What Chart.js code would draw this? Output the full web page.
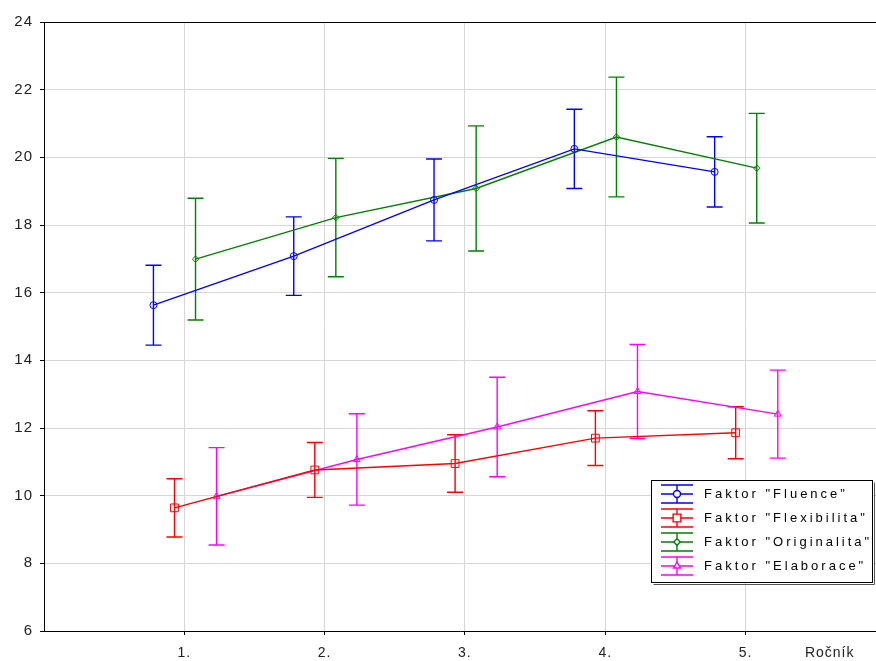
<!DOCTYPE html>
<html>
<head>
<meta charset="utf-8">
<script src="https://cdn.jsdelivr.net/npm/chart.js@4/dist/chart.umd.min.js"></script>
<style>
  html, body { margin: 0; padding: 0; background: #fff; }
  #wrap { width: 876px; height: 661px; }
</style>
</head>
<body>
<div id="wrap"><canvas id="rocnikChart" width="876" height="661"></canvas></div>
<script>
// Data: means and half-length of the error bars per year
const categories = [1, 2, 3, 4, 5];
const tickLabels = ['1.', '2.', '3.', '4.', '5.'];
const yTicks = [6, 8, 10, 12, 14, 16, 18, 20, 22, 24];
const seriesNames = ['Faktor "Fluence"', 'Faktor "Flexibilita"', 'Faktor "Originalita"', 'Faktor "Elaborace"'];

const fluenceMean = [15.63, 17.08, 18.74, 20.25, 19.57];
const fluenceErr = [1.18, 1.16, 1.21, 1.17, 1.04];
const flexMean = [9.64, 10.76, 10.95, 11.70, 11.86];
const flexErr = [0.86, 0.81, 0.85, 0.81, 0.77];
const origMean = [16.99, 18.22, 19.08, 20.60, 19.68];
const origErr = [1.80, 1.75, 1.85, 1.77, 1.62];
const elabMean = [9.98, 11.07, 12.03, 13.08, 12.41];
const elabErr = [1.44, 1.35, 1.47, 1.39, 1.30];

// styling
const colors = ['#0000ff', '#ff0000', '#008000', '#ff00ff'];
const markers = ['circle', 'rect', 'rectRot', 'triangle'];
const markerSize = [3.5, 5.5, 3.2, 4];
const shift = [-0.22, -0.07, 0.08, 0.23]; // horizontal dodge of each series
const FONT = '"Liberation Sans", Arial, sans-serif';
const LW = 1.4;

const means = [fluenceMean, flexMean, origMean, elabMean];
const errs = [fluenceErr, flexErr, origErr, elabErr];

const datasets = means.map((m, i) => ({
    label: seriesNames[i],
    data: categories.map((c, j) => ({ x: c + shift[i], y: m[j], err: errs[i][j] })),
    borderColor: colors[i],
    backgroundColor: 'rgba(0,0,0,0)',
    borderWidth: LW,
    pointStyle: markers[i],
    pointRadius: markerSize[i],
    pointBorderWidth: 1,
    pointBorderColor: colors[i],
    pointBackgroundColor: 'rgba(0,0,0,0)',
    tension: 0
}));

// error bars, drawn through the scales
const errorBars = {
    id: 'errorBars',
    beforeDraw(chart) {
        chart.ctx.letterSpacing = '1px';
    },
    beforeDatasetsDraw(chart) {
        const { ctx, scales: { x, y } } = chart;
        ctx.save();
        ctx.lineWidth = LW;
        chart.data.datasets.forEach((ds, i) => {
            ctx.strokeStyle = colors[i];
            ds.data.forEach(p => {
                const px = x.getPixelForValue(p.x);
                const top = y.getPixelForValue(p.y + p.err);
                const bot = y.getPixelForValue(p.y - p.err);
                ctx.beginPath();
                ctx.moveTo(px, top); ctx.lineTo(px, bot);
                ctx.moveTo(px - 8, top); ctx.lineTo(px + 8, top);
                ctx.moveTo(px - 8, bot); ctx.lineTo(px + 8, bot);
                ctx.stroke();
            });
        });
        ctx.restore();
    }
};

// top frame line, axis name and the boxed legend
const extras = {
    id: 'extras',
    afterDraw(chart) {
        const { ctx, chartArea: a, scales: { x } } = chart;
        ctx.save();
        ctx.strokeStyle = '#000';
        ctx.lineWidth = 1;
        ctx.beginPath();
        ctx.moveTo(a.left, a.top + 0.5); ctx.lineTo(a.right, a.top + 0.5);
        ctx.stroke();

        ctx.fillStyle = '#222';
        ctx.font = '14px ' + FONT;
        ctx.letterSpacing = '1px';
        ctx.textAlign = 'center';
        ctx.textBaseline = 'middle';
        ctx.fillText('Ročník', x.getPixelForValue(5.6), 653);

        // legend
        const bx = 651.5, by = 480.5, bw = 221, bh = 102;
        ctx.fillStyle = '#fff';
        ctx.fillRect(bx, by, bw, bh);
        ctx.strokeStyle = '#555';
        ctx.beginPath();
        ctx.moveTo(bx + bw + 2, by + 2); ctx.lineTo(bx + bw + 2, by + bh + 2); ctx.lineTo(bx + 2, by + bh + 2);
        ctx.stroke();
        ctx.strokeStyle = '#000';
        ctx.strokeRect(bx, by, bw, bh);

        ctx.font = '13px ' + FONT;
        ctx.textAlign = 'left';
        ctx.letterSpacing = '3px';
        seriesNames.forEach((name, i) => {
            const cy = 494 + i * 24;
            const cx = 677;
            ctx.strokeStyle = colors[i];
            ctx.lineWidth = LW;
            ctx.beginPath();
            ctx.moveTo(cx - 16, cy - 9); ctx.lineTo(cx + 16, cy - 9);
            ctx.moveTo(cx - 16, cy); ctx.lineTo(cx + 16, cy);
            ctx.moveTo(cx - 16, cy + 9); ctx.lineTo(cx + 16, cy + 9);
            ctx.moveTo(cx, cy - 9); ctx.lineTo(cx, cy + 9);
            ctx.stroke();
            ctx.fillStyle = '#fff';
            Chart.helpers.drawPoint(ctx, {
                pointStyle: markers[i], radius: markerSize[i], borderWidth: 1
            }, cx, cy);
            ctx.fillStyle = '#000';
            ctx.fillText(name, 704, cy + 0.5);
        });
        ctx.restore();
    }
};

new Chart(document.getElementById('rocnikChart'), {
    type: 'line',
    data: { datasets: datasets },
    options: {
        responsive: false,
        animation: false,
        devicePixelRatio: 1,
        layout: { autoPadding: false, padding: { top: 22, right: 0, left: 0, bottom: 0 } },
        plugins: { legend: { display: false }, tooltip: { enabled: false } },
        scales: {
            x: {
                type: 'linear',
                min: 0,
                max: 5.93,
                afterFit: s => { s.height = 30; },
                afterBuildTicks: s => { s.ticks = categories.map(v => ({ value: v })); },
                grid: { color: '#d6d6d6', tickColor: '#000', tickLength: 4 },
                border: { color: '#000', width: 1 },
                ticks: {
                    color: '#222',
                    font: { family: FONT, size: 14 },
                    padding: 10,
                    maxRotation: 0,
                    callback: (v) => tickLabels[categories.indexOf(v)]
                }
            },
            y: {
                min: 6,
                max: 24,
                afterFit: s => { s.width = 44; },
                afterBuildTicks: s => { s.ticks = yTicks.map(v => ({ value: v })); },
                grid: { color: '#d6d6d6', tickColor: '#000', tickLength: 4 },
                border: { color: '#000', width: 1 },
                ticks: {
                    color: '#222',
                    font: { family: FONT, size: 15 },
                    padding: 7
                }
            }
        }
    },
    plugins: [errorBars, extras]
});
</script>
</body>
</html>
